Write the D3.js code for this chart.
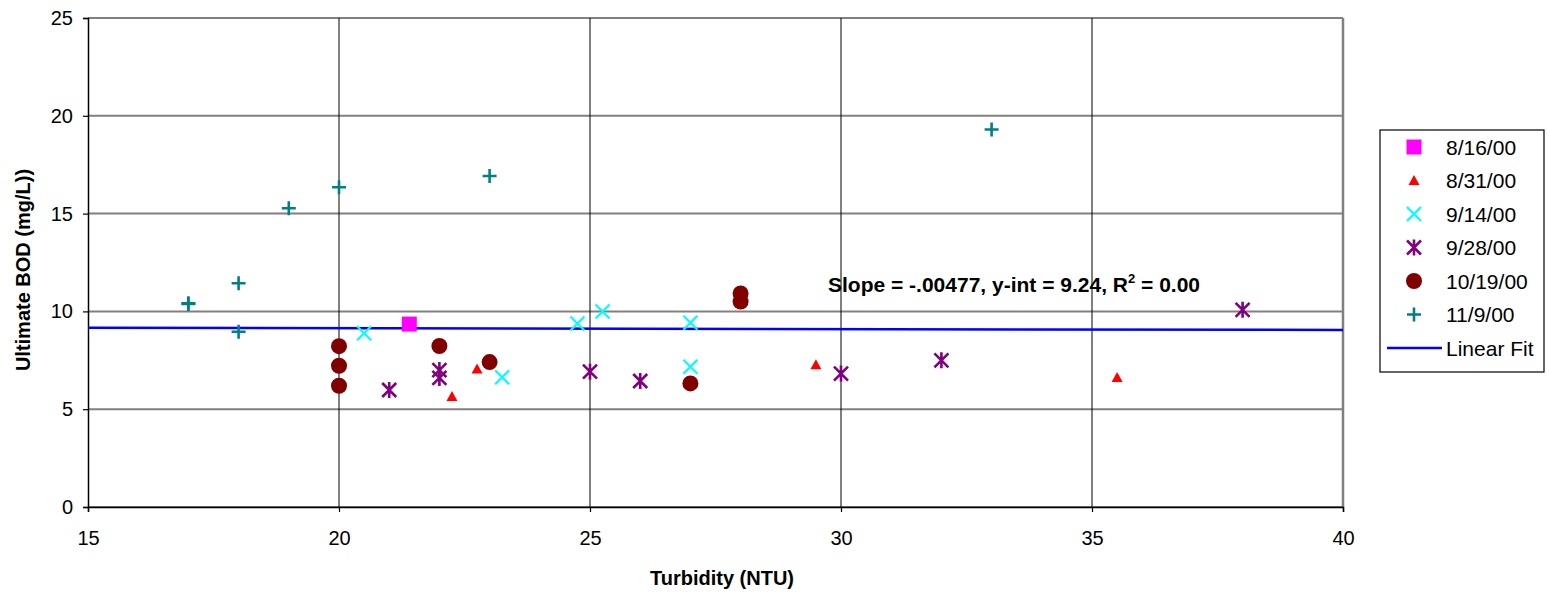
<!DOCTYPE html>
<html>
<head>
<meta charset="utf-8">
<script src="https://d3js.org/d3.v7.min.js"></script>
<style>
    body { margin: 0; background: #fff; }
    text { font-family: "Liberation Sans", Arial, sans-serif; fill: #000; }
    .tick-label { font-size: 20px; }
    .axis-title { font-size: 20px; font-weight: bold; }
    .legend-text { font-size: 21px; }
    .fit-label { font-size: 21px; font-weight: bold; }
</style>
</head>
<body>
<svg id="chart"></svg>
<script>
// turbidity (NTU), ultimate BOD (mg/L) per sampling date
const d0816 = [[21.4, 9.35]];
const d0831 = [[22.25, 5.65], [22.75, 7.05], [29.5, 7.27], [35.5, 6.62]];
const d0914 = [[20.5, 8.88], [23.25, 6.63], [24.75, 9.38], [25.25, 9.99], [27, 9.42], [27, 7.17]];
const d0928 = [[21, 5.98], [22, 7.0], [22, 6.6], [25, 6.92], [26, 6.44], [30, 6.82], [32, 7.5], [38, 10.08]];
const d1019 = [[20, 8.22], [20, 7.22], [20, 6.2], [22, 8.23], [23, 7.41], [27, 6.32], [28, 10.92], [28, 10.5]];
const d1109 = [[17, 10.42], [17, 10.38], [18, 11.44], [18, 8.96], [19, 15.27], [20, 16.35], [23, 16.92], [33, 19.3]];

const seriesNames = ["8/16/00", "8/31/00", "9/14/00", "9/28/00", "10/19/00", "11/9/00"];
const xTicks = [15, 20, 25, 30, 35, 40];
const yTicks = [0, 5, 10, 15, 20, 25];
const fitSlope = -0.00477;
const fitIntercept = 9.24;
const fitLabel = "Slope = -.00477, y-int = 9.24, R";

const series = [
    { name: seriesNames[0], data: d0816, shape: "square", color: "#ff00ff" },
    { name: seriesNames[1], data: d0831, shape: "triangle", color: "#ff0000" },
    { name: seriesNames[2], data: d0914, shape: "x", color: "#00ffff" },
    { name: seriesNames[3], data: d0928, shape: "star", color: "#800080" },
    { name: seriesNames[4], data: d1019, shape: "circle", color: "#800000" },
    { name: seriesNames[5], data: d1109, shape: "plus", color: "#008080" }
];

const W = 1549, H = 594;
const plotLeft = 88, plotRight = 1343, plotTop = 18, plotBottom = 507;

const svg = d3.select("#chart").attr("width", W).attr("height", H);

const x = d3.scaleLinear().domain([15, 40]).range([plotLeft, plotRight]);
const y = d3.scaleLinear().domain([0, 25]).range([plotBottom, plotTop]);

// grid
svg.append("g").selectAll("line")
    .data(yTicks)
    .enter().append("line")
    .attr("x1", plotLeft).attr("x2", plotRight)
    .attr("y1", d => y(d)).attr("y2", d => y(d))
    .attr("stroke", "#808080").attr("stroke-width", 2);

svg.append("g").selectAll("line")
    .data(xTicks.slice(1, -1))
    .enter().append("line")
    .attr("x1", d => x(d)).attr("x2", d => x(d))
    .attr("y1", plotTop).attr("y2", plotBottom)
    .attr("stroke", "#000").attr("stroke-width", 1);

// right border
svg.append("line")
    .attr("x1", plotRight).attr("x2", plotRight).attr("y1", plotTop).attr("y2", plotBottom)
    .attr("stroke", "#808080").attr("stroke-width", 2.5);

// axes
const yAxis = svg.append("g")
    .attr("transform", `translate(${plotLeft},0)`)
    .call(d3.axisLeft(y).tickValues(yTicks).tickSize(5).tickPadding(10));
const xAxis = svg.append("g")
    .attr("transform", `translate(0,${plotBottom})`)
    .call(d3.axisBottom(x).tickValues(xTicks).tickSize(5).tickPadding(19));

[yAxis, xAxis].forEach(a => {
    a.select(".domain").attr("stroke", "#000").attr("stroke-width", 1.5);
    a.selectAll(".tick line").attr("stroke", "#000").attr("stroke-width", 1.2);
    a.selectAll("text").attr("class", "tick-label").attr("font-family", null).attr("font-size", null);
});

// axis titles
svg.append("text")
    .attr("class", "axis-title")
    .attr("text-anchor", "middle")
    .attr("x", 722).attr("y", 585)
    .text("Turbidity (NTU)");

svg.append("text")
    .attr("class", "axis-title")
    .attr("text-anchor", "middle")
    .attr("transform", `translate(30,270)rotate(-90)`)
    .text("Ultimate BOD (mg/L))");

// linear fit
svg.append("line")
    .attr("x1", x(15)).attr("x2", x(40))
    .attr("y1", y(fitIntercept + fitSlope * 15))
    .attr("y2", y(fitIntercept + fitSlope * 40))
    .attr("stroke", "#0000ff").attr("stroke-width", 2.5);

const fit = svg.append("text")
    .attr("class", "fit-label")
    .attr("x", 828).attr("y", 292)
    .text(fitLabel);
fit.append("tspan").attr("dy", -9).attr("font-size", 13).text("2");
fit.append("tspan").attr("dy", 9).text(" = 0.00");

// marker drawing
function drawMarker(g, shape, color) {
    if (shape === "square") {
        g.append("rect").attr("x", -7.5).attr("y", -7.5).attr("width", 15).attr("height", 15).attr("fill", color);
    } else if (shape === "triangle") {
        g.append("path").attr("d", "M0,-5.5L5.5,4.5L-5.5,4.5Z").attr("fill", color);
    } else if (shape === "circle") {
        g.append("circle").attr("r", 8).attr("fill", color);
    } else {
        const s = 7;
        let d = "";
        if (shape === "x" || shape === "star") d += `M${-s},${-s}L${s},${s}M${-s},${s}L${s},${-s}`;
        if (shape === "plus") d += `M${-s},0L${s},0M0,${-s}L0,${s}`;
        if (shape === "star") d += `M0,${-s - 1}L0,${s + 1}`;
        g.append("path").attr("d", d).attr("stroke", color)
            .attr("stroke-width", shape === "x" ? 2.2 : 2.6).attr("fill", "none");
    }
}

series.forEach(s => {
    svg.append("g").selectAll("g")
        .data(s.data)
        .enter().append("g")
        .attr("transform", d => `translate(${x(d[0])},${y(d[1])})`)
        .each(function() { drawMarker(d3.select(this), s.shape, s.color); });
});

// legend
const legend = svg.append("g");
legend.append("rect")
    .attr("x", 1380).attr("y", 130).attr("width", 164).attr("height", 242)
    .attr("fill", "#fff").attr("stroke", "#000").attr("stroke-width", 1.2);

const rowY = i => 147 + i * 33.5;
series.forEach((s, i) => {
    const g = legend.append("g").attr("transform", `translate(1414,${rowY(i)})`);
    drawMarker(g, s.shape, s.color);
    legend.append("text")
        .attr("class", "legend-text")
        .attr("x", 1446).attr("y", rowY(i) + 7.5)
        .text(s.name);
});
legend.append("line")
    .attr("x1", 1387).attr("x2", 1442)
    .attr("y1", rowY(6)).attr("y2", rowY(6))
    .attr("stroke", "#0000ff").attr("stroke-width", 2.5);
legend.append("text")
    .attr("class", "legend-text")
    .attr("x", 1446).attr("y", rowY(6) + 7.5)
    .text("Linear Fit");
</script>
</body>
</html>
